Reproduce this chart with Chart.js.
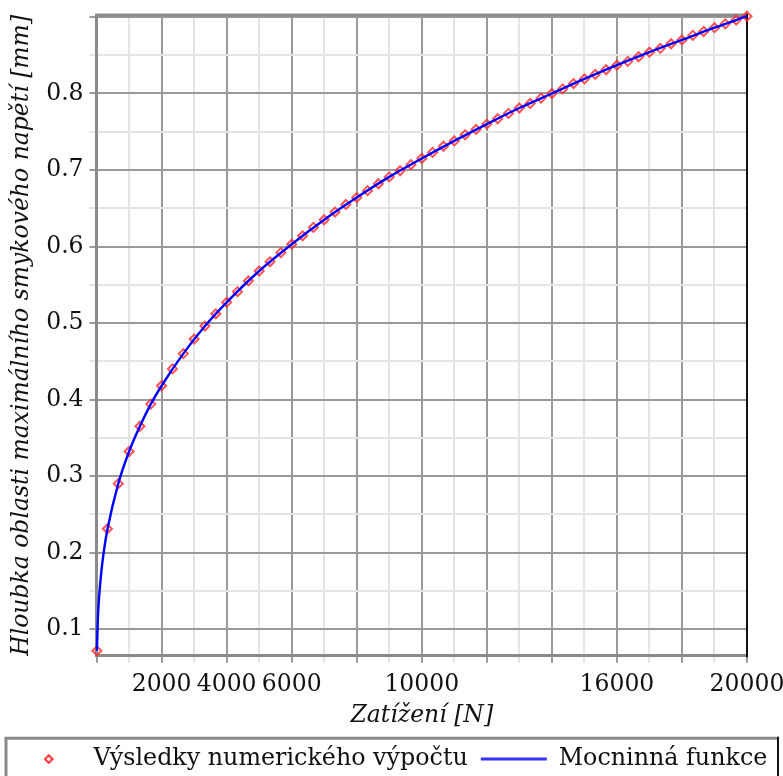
<!DOCTYPE html>
<html>
<head>
<meta charset="utf-8">
<script src="https://cdn.jsdelivr.net/npm/chart.js@4"></script>
<style>
html,body{margin:0;padding:0;background:#fff;}
canvas{display:block;}
</style>
</head>
<body>
<canvas id="c" width="783" height="776"></canvas>
<script>
// ---- data ----
const LOAD_N = [10, 333, 667, 1000, 1333, 1667, 2000, 2333, 2667, 3000, 3333, 3667, 4000, 4333, 4667, 5000,
  5333, 5667, 6000, 6333, 6667, 7000, 7333, 7667, 8000, 8333, 8667, 9000, 9333, 9667, 10000,
  10333, 10667, 11000, 11333, 11667, 12000, 12333, 12667, 13000, 13333, 13667, 14000, 14333, 14667, 15000,
  15333, 15667, 16000, 16333, 16667, 17000, 17333, 17667, 18000, 18333, 18667, 19000, 19333, 19667, 20000];
const DEPTH_MM = [0.0715, 0.231, 0.290, 0.332, 0.365, 0.394, 0.418, 0.440, 0.460, 0.479, 0.496,
  0.512, 0.527, 0.541, 0.555, 0.568, 0.580, 0.592, 0.603, 0.614, 0.625, 0.635, 0.645, 0.655, 0.664,
  0.673, 0.682, 0.691, 0.699, 0.707, 0.715, 0.723, 0.731, 0.738, 0.746, 0.753, 0.760, 0.767, 0.774,
  0.781, 0.787, 0.794, 0.800, 0.806, 0.813, 0.819, 0.825, 0.831, 0.837, 0.842, 0.848, 0.854, 0.859,
  0.865, 0.870, 0.876, 0.881, 0.886, 0.891, 0.896, 0.901];
const FIT_LOAD_N = [10, 40, 80, 150, 250, 333, 667, 1000, 1333, 1667, 2000, 2667, 3333, 4000, 5000, 6000,
  7000, 8000, 9000, 10000, 11000, 12000, 13000, 14000, 15000, 16000, 17000, 18000, 19000, 20000];
const FIT_DEPTH_MM = [0.0715, 0.1135, 0.1431, 0.1764, 0.2092, 0.230, 0.290, 0.332, 0.365, 0.394, 0.418,
  0.460, 0.496, 0.527, 0.568, 0.603, 0.635, 0.664, 0.691, 0.715, 0.738, 0.760, 0.781, 0.800, 0.819,
  0.837, 0.854, 0.870, 0.886, 0.901];
const X_TICK_LABELS = [2000, 4000, 6000, 10000, 16000, 20000];
const Y_TICK_LABELS = [0.1, 0.2, 0.3, 0.4, 0.5, 0.6, 0.7, 0.8];
const SERIES_NAMES = ['Výsledky numerického výpočtu', 'Mocninná funkce'];
const X_TITLE = 'Zatížení [N]';
const Y_TITLE = 'Hloubka oblasti maximálního smykového napětí [mm]';

const FONT = "'DejaVu Serif', serif";
Chart.defaults.font.family = FONT;
Chart.defaults.font.size = 23.5;
Chart.defaults.color = '#111';

const MAJOR = '#9a9a9a', MINOR = '#e4e4e4';

// small diamond for the legend marker
const diamond = document.createElement('canvas');
diamond.width = 10; diamond.height = 10;
(function(){ const g = diamond.getContext('2d'); g.strokeStyle = '#ff1a1a'; g.lineWidth = 1.8;
  g.beginPath(); g.moveTo(5,1.2); g.lineTo(8.8,5); g.lineTo(5,8.8); g.lineTo(1.2,5); g.closePath(); g.stroke(); })();

const framePlugin = {
  id: 'frame',
  beforeDatasetsDraw(chart) {
    const {ctx, chartArea: a} = chart;
    ctx.save();
    ctx.strokeStyle = '#8a8a8a'; ctx.lineWidth = 3;
    ctx.beginPath(); ctx.moveTo(a.left - 1.5, a.top); ctx.lineTo(a.right, a.top); ctx.stroke();
    ctx.strokeStyle = '#111'; ctx.lineWidth = 2;
    ctx.beginPath(); ctx.moveTo(a.right, a.top - 1.5); ctx.lineTo(a.right, a.bottom + 1.5); ctx.stroke();
    ctx.restore();
  },
  afterDraw(chart) {
    const {ctx} = chart; const lg = chart.legend;
    const top = lg.top + 4;
    ctx.save();
    ctx.strokeStyle = '#8a8a8a'; ctx.lineWidth = 3;
    ctx.beginPath(); ctx.moveTo(6, chart.height + 5); ctx.lineTo(6, top); ctx.lineTo(chart.width - 5, top); ctx.stroke();
    ctx.strokeStyle = '#111'; ctx.lineWidth = 2;
    ctx.beginPath(); ctx.moveTo(chart.width - 5, top - 1.5); ctx.lineTo(chart.width - 5, chart.height + 5); ctx.stroke();
    ctx.restore();
  }
};

function xGrid(c) {
  const v = c.tick ? c.tick.value : 0;
  return v % 2000 === 0 ? MAJOR : MINOR;
}
function yGrid(c) {
  const v = c.tick ? Math.round(c.tick.value * 1000) : 0;
  if (v % 100 === 0) return MAJOR;
  if (v % 50 === 0) return MINOR;
  return 'rgba(0,0,0,0)';
}

new Chart(document.getElementById('c'), {
  type: 'scatter',
  data: {
    datasets: [
      {
        label: SERIES_NAMES[0],
        data: LOAD_N.map((x, i) => ({x, y: DEPTH_MM[i]})),
        pointStyle: 'rectRot',
        pointRadius: 4.5,
        pointBorderWidth: 2,
        pointBorderColor: 'rgba(255,40,40,0.8)',
        pointBackgroundColor: 'rgba(255,255,255,0)',
        showLine: false,
        clip: false,
        order: 2
      },
      {
        label: SERIES_NAMES[1],
        data: FIT_LOAD_N.map((x, i) => ({x, y: FIT_DEPTH_MM[i]})),
        showLine: true,
        borderColor: '#0000ff',
        borderWidth: 2.4,
        pointRadius: 0,
        cubicInterpolationMode: 'monotone',
        clip: false,
        order: 1
      }
    ]
  },
  options: {
    responsive: false,
    animation: false,
    layout: { padding: { top: 15, left: 0, right: 0, bottom: -5 } },
    plugins: {
      tooltip: { enabled: false },
      legend: {
        position: 'bottom',
        labels: {
          usePointStyle: true,
          pointStyleWidth: 66,
          boxHeight: 8,
          padding: 13,
          color: '#111',
          font: { family: FONT, size: 23.8 },
          generateLabels(chart) {
            return [
              { text: SERIES_NAMES[0], pointStyle: diamond, fillStyle: 'rgba(0,0,0,0)', strokeStyle: 'rgba(0,0,0,0)', lineWidth: 0, datasetIndex: 0, hidden: false, fontColor: '#111' },
              { text: SERIES_NAMES[1], pointStyle: 'line', fillStyle: '#2a2aff', strokeStyle: '#3333ff', lineWidth: 3, datasetIndex: 1, hidden: false, fontColor: '#111' }
            ];
          }
        }
      }
    },
    scales: {
      x: {
        type: 'linear',
        min: 0, max: 20000,
        afterFit(s) { s.paddingLeft = 0; s.paddingRight = 36; },
        ticks: {
          stepSize: 1000, autoSkip: false, maxRotation: 0, minRotation: 0, padding: 8,
          includeBounds: false,
          callback: v => X_TICK_LABELS.includes(v) ? String(v) : ''
        },
        grid: { color: xGrid, lineWidth: 2, tickColor: xGrid, tickLength: 7 },
        border: { color: '#8a8a8a', width: 3 },
        title: { display: true, text: X_TITLE, font: { family: FONT, size: 23.5, style: 'italic' }, padding: { top: -5, bottom: 4 } }
      },
      y: {
        type: 'linear',
        min: 0.065, max: 0.9026,
        afterFit(s) { s.paddingTop = 0; s.paddingBottom = 0; },
        ticks: {
          stepSize: 0.05, includeBounds: false, padding: 6,
          callback: v => Y_TICK_LABELS.some(t => Math.abs(t - v) < 1e-6) ? v.toFixed(1) : ''
        },
        grid: { color: yGrid, lineWidth: 2, tickColor: yGrid, tickLength: 7 },
        border: { color: '#8a8a8a', width: 3 },
        title: { display: true, text: Y_TITLE, font: { family: FONT, size: 23.5, style: 'italic' }, padding: { top: 8, bottom: 4 } }
      }
    }
  },
  plugins: [framePlugin]
});
</script>
</body>
</html>
